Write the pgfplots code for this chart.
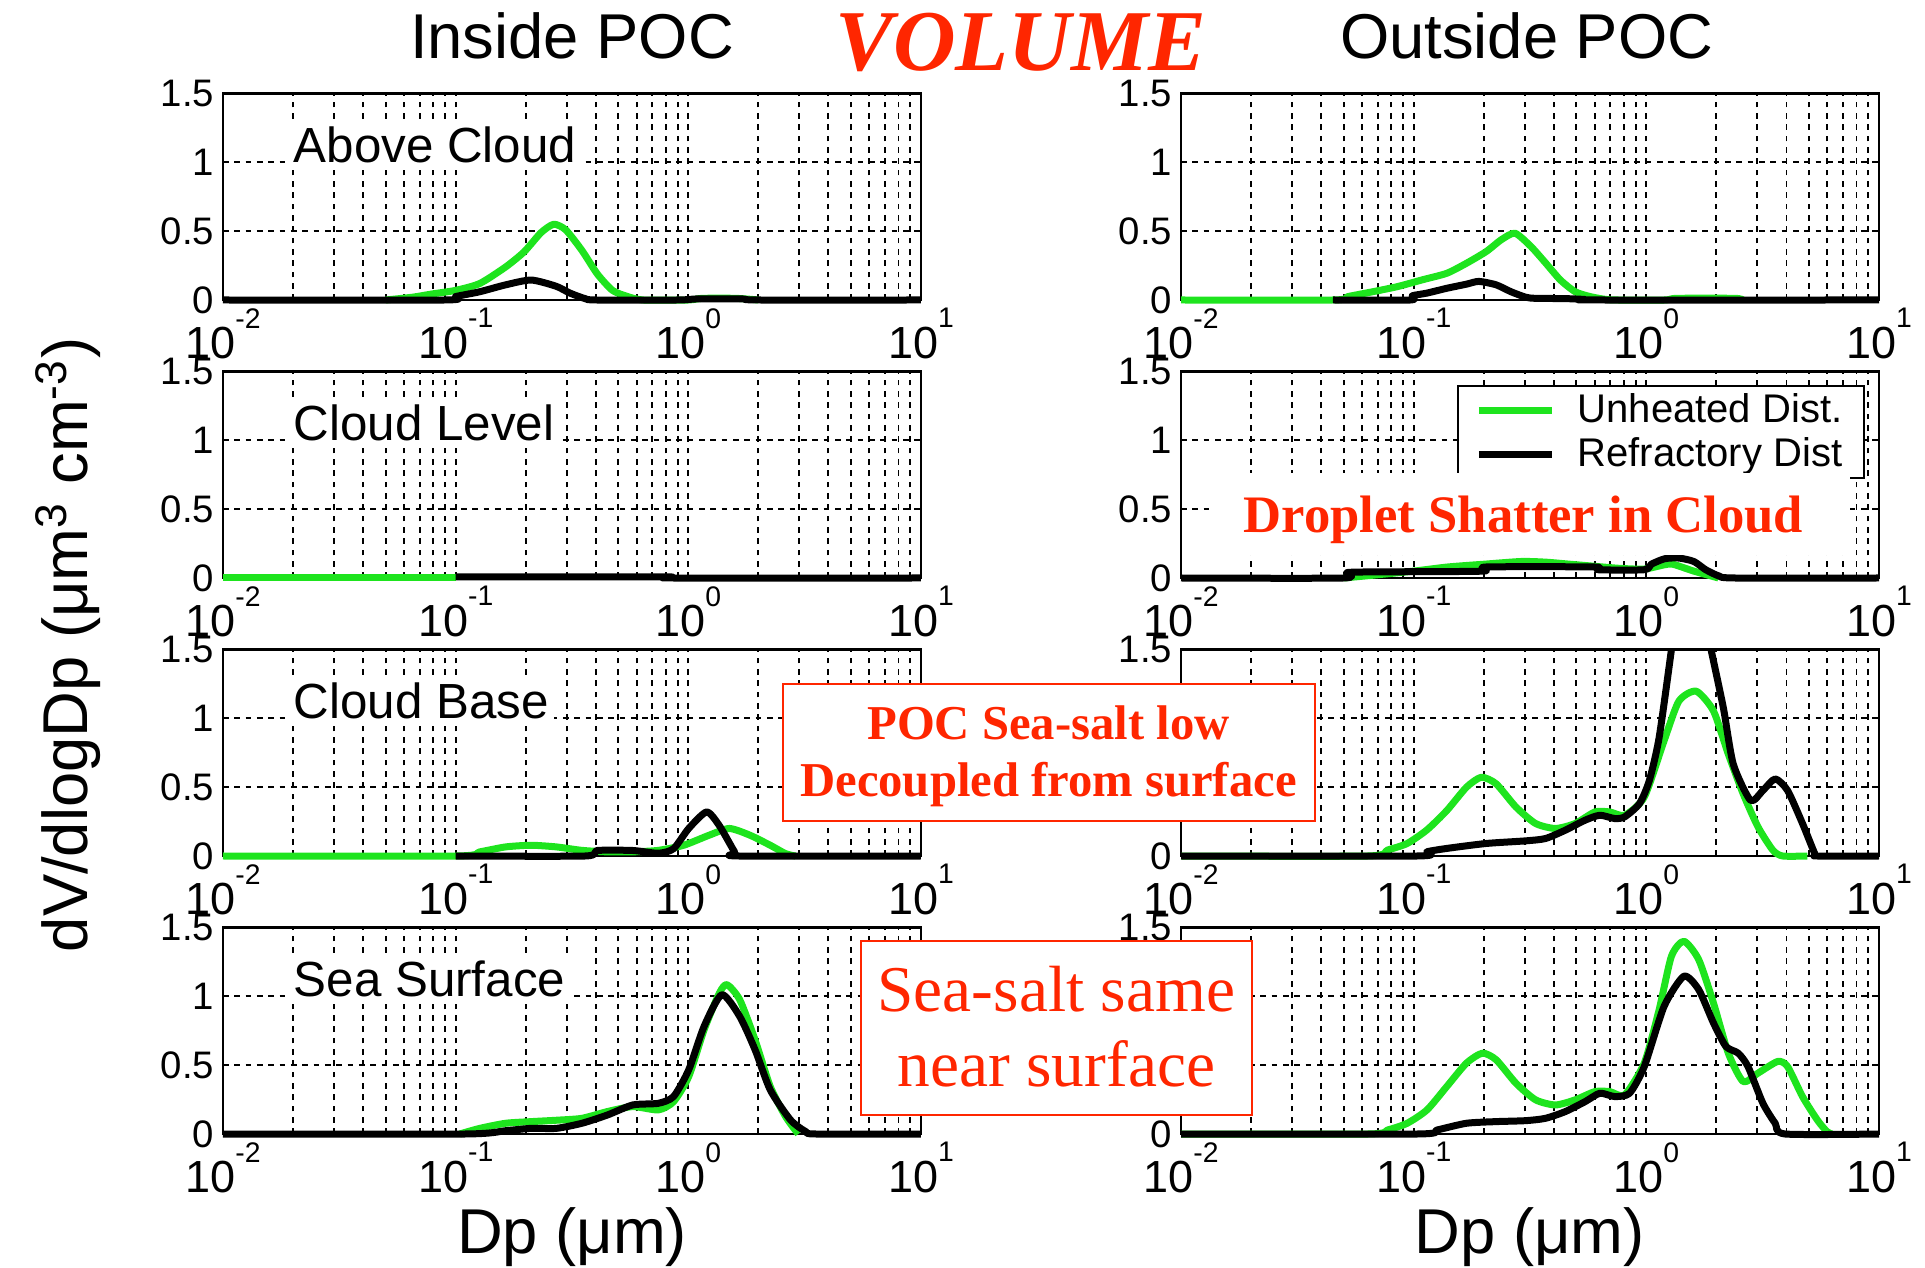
\documentclass[border=0pt]{standalone}
\usepackage{pgfplots}
\pgfplotsset{compat=1.18}
\usepackage{fontspec}
\setmainfont{Liberation Sans}
\newfontfamily\timesfont{Liberation Serif}
\definecolor{ugreen}{RGB}{30,228,30}
\definecolor{annred}{RGB}{255,38,0}
% decade tick label with a raised exponent
\newcommand{\decade}[1]{10\raisebox{0.68em}{\fontsize{8.5}{8.5}\selectfont #1}}

\pgfplotsset{
  /pgfplots/psdpanel/.style={
    /pgfplots/scale only axis,
    /pgfplots/width=209.4pt, /pgfplots/height=61.95pt,
    /pgfplots/xmin=0.01, /pgfplots/xmax=10, /pgfplots/ymin=0, /pgfplots/ymax=1.5,
    /pgfplots/clip=false,
    /pgfplots/xtick={0.01,0.1,1,10},
    /pgfplots/xticklabels={\decade{-2},\decade{-1},\decade{0},\decade{1}},
    /pgfplots/minor xtick={0.02,0.03,0.04,0.05,0.06,0.07,0.08,0.09,0.2,0.3,0.4,0.5,0.6,0.7,0.8,0.9,2,3,4,5,6,7,8,9},
    /pgfplots/ytick={0,0.5,1,1.5}, /pgfplots/yticklabels={0,0.5,1,1.5},
    /pgfplots/xmajorgrids=true, /pgfplots/xminorgrids=true, /pgfplots/ymajorgrids=true,
    /pgfplots/major grid style={black, line width=0.55pt, dash pattern=on 1.7pt off 1.7pt},
    /pgfplots/minor grid style={black, line width=0.55pt, dash pattern=on 1.7pt off 1.7pt},
    /pgfplots/major tick length=0pt, /pgfplots/minor tick length=0pt,
    /pgfplots/axis line style={line width=0.65pt},
    /pgfplots/yticklabel style={inner xsep=2.5pt, font=\fontsize{11.5}{12}\selectfont},
    /pgfplots/xticklabel style={yshift=1pt, font=\fontsize{13.5}{14}\selectfont},
  },
  /pgfplots/curve/.style={line width=2.1pt, line join=round, smooth, tension=0.4},
}
\tikzset{
  panellab/.style={anchor=base west, fill=white, inner sep=1.5pt, xshift=-1.5pt,
    font=\fontsize{14.8}{15}\selectfont},
}

\begin{document}
\begin{tikzpicture}
\path[use as bounding box] (0,0) rectangle (577.5pt,380.1pt);

% ---------------- Above cloud ----------------
\begin{semilogxaxis}[psdpanel, at={(66.9pt,290.1pt)}, anchor=south west]
\addplot[curve, ugreen] coordinates {(0.05,0) (0.065,0.02) (0.08,0.045) (0.1,0.07) (0.127,0.12) (0.164,0.24) (0.197,0.35) (0.233,0.49) (0.264,0.55) (0.297,0.51) (0.349,0.36) (0.406,0.19) (0.472,0.07) (0.549,0.025) (0.64,0) (1.0,0) (1.15,0.012) (1.6,0.012) (2.0,0)};
\addplot[curve, black] coordinates {(0.01,0) (0.09,0) (0.1,0.025) (0.127,0.06) (0.164,0.11) (0.211,0.145) (0.27,0.10) (0.31,0.05) (0.36,0.01) (0.4,0) (0.9,0) (1.1,0.008) (1.7,0.008) (2.0,0) (10,0)};
\node[panellab] at (axis cs:0.02,1) {Above Cloud};
\end{semilogxaxis}

\begin{semilogxaxis}[psdpanel, at={(354.3pt,290.1pt)}, anchor=south west]
\addplot[curve, ugreen] coordinates {(0.01,0) (0.045,0) (0.0522,0.025) (0.0667,0.06) (0.0851,0.097) (0.1087,0.146) (0.1388,0.194) (0.1687,0.267) (0.2051,0.352) (0.2377,0.437) (0.2725,0.485) (0.3186,0.39) (0.3687,0.27) (0.4272,0.145) (0.4946,0.06) (0.573,0.025) (0.664,0.005) (0.75,0) (1.2,0) (1.35,0.012) (2.4,0.012) (2.6,0)};
\addplot[curve, black] coordinates {(0.045,0) (0.097,0) (0.0985,0.03) (0.114,0.05) (0.1388,0.085) (0.1687,0.115) (0.1906,0.135) (0.2263,0.11) (0.2619,0.06) (0.3033,0.02) (0.3344,0.012) (0.4486,0.01) (0.5445,0.004) (0.6,0) (10,0)};
\end{semilogxaxis}

% ---------------- Cloud level ----------------
\begin{semilogxaxis}[psdpanel, at={(66.9pt,206.7pt)}, anchor=south west]
\addplot[curve, ugreen] coordinates {(0.01,0) (0.1,0)};
\addplot[curve, black] coordinates {(0.1,0.008) (0.8,0.008) (0.85,0) (10,0)};
\node[panellab] at (axis cs:0.02,1) {Cloud Level};
\end{semilogxaxis}

\begin{semilogxaxis}[psdpanel, at={(354.3pt,206.7pt)}, anchor=south west,
  legend style={at={(0.396,0.9356)}, anchor=north west, draw=black, line width=0.6pt,
    fill=white, font=\fontsize{12}{14}\selectfont, cells={anchor=west},
    inner xsep=5.1pt, inner ysep=0.7pt, nodes={inner sep=1.5pt}, column sep=5.1pt},
  legend image code/.code={\draw[#1, line width=2.1pt] (0pt,0pt) -- (22pt,0pt);}]
\addplot[curve, ugreen] coordinates {(0.05,0) (0.0667,0.02) (0.1,0.05) (0.14,0.08) (0.2,0.1) (0.29,0.12) (0.37,0.115) (0.47,0.1) (0.6,0.085) (0.77,0.07) (0.98,0.065) (1.19,0.095) (1.3,0.1) (1.6,0.05) (2.04,0)};
\addlegendentry{Unheated Dist.}
\addplot[curve, black] coordinates {(0.01,0) (0.05,0) (0.052,0.04) (0.085,0.045) (0.2,0.05) (0.205,0.08) (0.6,0.08) (0.62,0.06) (0.98,0.06) (1.05,0.1) (1.2,0.14) (1.38,0.145) (1.6,0.12) (1.8,0.06) (2.05,0.015) (2.4,0) (10,0)};
\addlegendentry{Refractory Dist}
\end{semilogxaxis}

% ---------------- Cloud base ----------------
\begin{semilogxaxis}[psdpanel, at={(66.9pt,123.3pt)}, anchor=south west]
\addplot[curve, ugreen] coordinates {(0.01,0) (0.1,0) (0.127,0.03) (0.164,0.066) (0.211,0.078) (0.271,0.066) (0.349,0.041) (0.449,0.03) (0.577,0.03) (0.743,0.041) (0.955,0.078) (1.229,0.151) (1.50,0.2) (1.84,0.151) (2.25,0.078) (2.62,0.017) (2.89,0)};
\addplot[curve, black] coordinates {(0.1,0) (0.36,0) (0.406,0.04) (0.577,0.04) (0.743,0.02) (0.864,0.053) (1.004,0.2) (1.199,0.32) (1.36,0.22) (1.58,0.03) (1.65,0) (10,0)};
\node[panellab] at (axis cs:0.02,1) {Cloud Base};
\end{semilogxaxis}

\begin{semilogxaxis}[psdpanel, at={(354.3pt,123.3pt)}, anchor=south west]
\addplot[curve, ugreen] coordinates {(0.01,0) (0.0635,0) (0.0772,0.043) (0.0938,0.091) (0.1141,0.19) (0.1388,0.33) (0.1687,0.5) (0.1954,0.572) (0.2263,0.524) (0.2751,0.356) (0.3344,0.236) (0.4067,0.2) (0.4946,0.236) (0.601,0.32) (0.6966,0.32) (0.8066,0.296) (0.98,0.428) (1.192,0.837) (1.38,1.125) (1.638,1.197) (1.944,1.053) (2.251,0.74) (2.607,0.452) (3.018,0.212) (3.496,0.043) (3.855,0) (4.92,0)};
\addplot[curve, black] coordinates {(0.01,0) (0.1035,0) (0.1141,0.031) (0.1388,0.055) (0.2051,0.091) (0.3033,0.11) (0.3687,0.127) (0.4486,0.1875) (0.5454,0.26) (0.6316,0.296) (0.7311,0.272) (0.8066,0.284) (0.934,0.38) (1.03,0.548) (1.135,0.86) (1.282,1.5)};
\addplot[curve, black] coordinates {(1.897,1.5) (2.143,1.077) (2.364,0.668) (2.805,0.404) (3.17,0.476) (3.58,0.56) (4.046,0.476) (4.69,0.236) (5.29,0.019) (5.43,0) (10,0)};
\end{semilogxaxis}

% ---------------- Sea surface ----------------
\begin{semilogxaxis}[psdpanel, at={(66.9pt,39.9pt)}, anchor=south west]
\addplot[curve, ugreen] coordinates {(0.1041,0) (0.127,0.041) (0.164,0.078) (0.211,0.09) (0.271,0.1) (0.349,0.114) (0.449,0.163) (0.577,0.199) (0.743,0.175) (0.864,0.235) (1.004,0.417) (1.169,0.757) (1.36,1.024) (1.466,1.085) (1.663,0.976) (1.936,0.684) (2.25,0.345) (2.62,0.126) (2.97,0)};
\addplot[curve, black] coordinates {(0.01,0) (0.1095,0) (0.164,0.024) (0.211,0.041) (0.271,0.041) (0.349,0.078) (0.449,0.138) (0.577,0.211) (0.743,0.223) (0.864,0.272) (1.004,0.466) (1.169,0.782) (1.393,1.012) (1.663,0.854) (1.936,0.612) (2.25,0.32) (2.75,0.102) (3.2,0.017) (3.54,0) (10,0)};
\node[panellab] at (axis cs:0.02,1) {Sea Surface};
\end{semilogxaxis}

\begin{semilogxaxis}[psdpanel, at={(354.3pt,39.9pt)}, anchor=south west]
\addplot[curve, ugreen] coordinates {(0.01,0) (0.0635,0) (0.0772,0.029) (0.0938,0.078) (0.1141,0.175) (0.1388,0.345) (0.1687,0.515) (0.1974,0.587) (0.2263,0.539) (0.2751,0.369) (0.3344,0.248) (0.4067,0.211) (0.4946,0.248) (0.601,0.308) (0.6966,0.308) (0.8066,0.284) (0.98,0.515) (1.135,0.903) (1.282,1.291) (1.45,1.4) (1.679,1.267) (1.944,0.951) (2.251,0.587) (2.607,0.381) (3.018,0.442) (3.672,0.527) (4.046,0.49) (4.69,0.272) (5.43,0.102) (5.98,0.017) (6.28,0)};
\addplot[curve, black] coordinates {(0.01,0) (0.1035,0) (0.1259,0.029) (0.1687,0.078) (0.2263,0.09) (0.3033,0.097) (0.3687,0.114) (0.4486,0.163) (0.5454,0.235) (0.6316,0.296) (0.7311,0.272) (0.847,0.296) (0.98,0.49) (1.192,0.927) (1.45,1.146) (1.679,1.049) (1.944,0.806) (2.198,0.636) (2.483,0.587) (2.735,0.49) (3.17,0.223) (3.58,0.078) (3.952,0) (10,0)};
\end{semilogxaxis}

% ---------------- titles and axis labels ----------------
\node[anchor=base, font=\fontsize{19}{19}\selectfont] at (171.6pt,362.4pt) {Inside POC};
\node[anchor=base, font=\fontsize{19}{19}\selectfont] at (458.0pt,362.4pt) {Outside POC};
\node[anchor=base, text=annred, font=\timesfont\bfseries\itshape\fontsize{26}{26}\selectfont] at (306.2pt,358.9pt) {VOLUME};
\node[anchor=base, font=\fontsize{19}{19}\selectfont] at (171.6pt,4.2pt) {Dp (μm)};
\node[anchor=base, font=\fontsize{19}{19}\selectfont] at (458.9pt,4.2pt) {Dp (μm)};
\node[rotate=90, anchor=base, font=\fontsize{19}{19}\selectfont] at (26.1pt,186.6pt) {dV/dlogDp (μm\textsuperscript{3} cm\textsuperscript{-3})};

% ---------------- annotations ----------------
\fill[white] (363.9pt,213.6pt) rectangle (555.0pt,238.2pt);
\node[anchor=base, inner sep=0pt, text=annred, font=\timesfont\bfseries\fontsize{15.8}{16}\selectfont] at (457.05pt,220.3pt) {Droplet Shatter in Cloud};

\draw[annred, line width=0.6pt, fill=white] (234.75pt,133.8pt) rectangle (394.4pt,174.9pt);
\node[anchor=base, inner sep=0pt, text=annred, font=\timesfont\bfseries\fontsize{14.6}{15}\selectfont] at (314.55pt,158.1pt) {POC Sea-salt low};
\node[anchor=base, inner sep=0pt, text=annred, font=\timesfont\bfseries\fontsize{14.6}{15}\selectfont] at (314.55pt,141.0pt) {Decoupled from surface};

\draw[annred, line width=0.6pt, fill=white] (258.2pt,45.6pt) rectangle (375.5pt,97.9pt);
\node[anchor=base, inner sep=0pt, text=annred, font=\timesfont\fontsize{19.6}{20}\selectfont] at (316.9pt,76.6pt) {Sea-salt same};
\node[anchor=base, inner sep=0pt, text=annred, font=\timesfont\fontsize{19.6}{20}\selectfont] at (316.9pt,54.1pt) {near surface};
\end{tikzpicture}
\end{document}
